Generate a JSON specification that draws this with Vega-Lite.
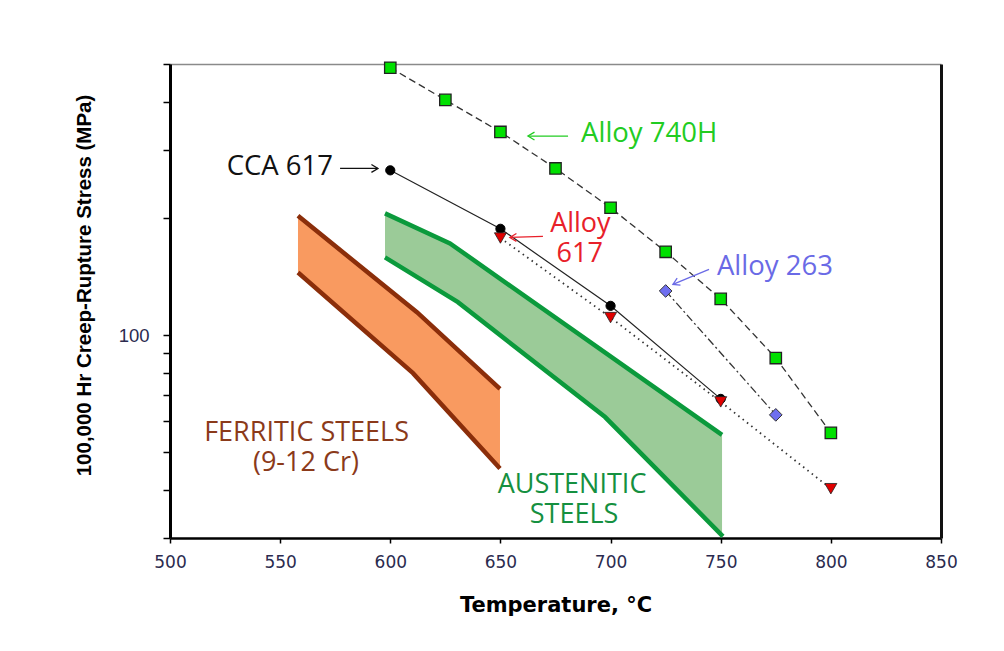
{
  "$schema": "https://vega.github.io/schema/vega-lite/v6.json",
  "width": 771,
  "height": 474,
  "autosize": "none",
  "padding": {"left": 170, "top": 64, "right": 63, "bottom": 113},
  "background": "white",
  "config": {"view": {"stroke": null}},
  "datasets": {
    "series": [
      {"series": "Alloy 740H", "T": 600, "S": 489},
      {"series": "Alloy 740H", "T": 625, "S": 404},
      {"series": "Alloy 740H", "T": 650, "S": 334},
      {"series": "Alloy 740H", "T": 675, "S": 269},
      {"series": "Alloy 740H", "T": 700, "S": 213},
      {"series": "Alloy 740H", "T": 725, "S": 164},
      {"series": "Alloy 740H", "T": 750, "S": 124},
      {"series": "Alloy 740H", "T": 775, "S": 87.3},
      {"series": "Alloy 740H", "T": 800, "S": 56},
      {"series": "CCA 617", "T": 600, "S": 266},
      {"series": "CCA 617", "T": 650, "S": 188},
      {"series": "CCA 617", "T": 700, "S": 119},
      {"series": "CCA 617", "T": 750, "S": 68.5},
      {"series": "Alloy 617", "T": 650, "S": 178},
      {"series": "Alloy 617", "T": 700, "S": 111},
      {"series": "Alloy 617", "T": 750, "S": 67.3},
      {"series": "Alloy 617", "T": 800, "S": 40.2},
      {"series": "Alloy 263", "T": 725, "S": 130},
      {"series": "Alloy 263", "T": 775, "S": 62.3}
    ],
    "bands": [
      {"band": "Ferritic", "T": 558.1, "upper": 203, "lower": 145},
      {"band": "Ferritic", "T": 611, "upper": 116, "lower": 79.5},
      {"band": "Ferritic", "T": 649.8, "upper": 72.7, "lower": 45.3},
      {"band": "Austenitic", "T": 597.6, "upper": 206, "lower": 158.7},
      {"band": "Austenitic", "T": 629, "upper": 169.4, "lower": 123.3},
      {"band": "Austenitic", "T": 697.5, "upper": 90.2, "lower": 61.5},
      {"band": "Austenitic", "T": 750.6, "upper": 55.3, "lower": 30.3}
    ],
    "bandlines": [
      {"band": "Ferritic", "edge": "upper", "T": 558.1, "S": 203},
      {"band": "Ferritic", "edge": "upper", "T": 612.1, "S": 114.6},
      {"band": "Ferritic", "edge": "upper", "T": 649.8, "S": 72.7},
      {"band": "Ferritic", "edge": "lower", "T": 558.1, "S": 145},
      {"band": "Ferritic", "edge": "lower", "T": 610.3, "S": 79.8},
      {"band": "Ferritic", "edge": "lower", "T": 649.8, "S": 45.3},
      {"band": "Austenitic", "edge": "upper", "T": 597.6, "S": 206},
      {"band": "Austenitic", "edge": "upper", "T": 627.1, "S": 172.4},
      {"band": "Austenitic", "edge": "upper", "T": 750.6, "S": 55.3},
      {"band": "Austenitic", "edge": "lower", "T": 597.6, "S": 158.7},
      {"band": "Austenitic", "edge": "lower", "T": 630.7, "S": 121.6},
      {"band": "Austenitic", "edge": "lower", "T": 697.5, "S": 61.5},
      {"band": "Austenitic", "edge": "lower", "T": 751, "S": 30.3}
    ],
    "labels": [
      {"label": "Alloy 740H", "series": "740H", "pos": "left", "T": 686.6, "S": 330},
      {"label": "Alloy 263", "series": "263", "pos": "left", "T": 748.3, "S": 149.5},
      {"label": "CCA 617", "series": "CCA", "pos": "right", "T": 574, "S": 272},
      {"label": "Alloy", "series": "617", "pos": "center", "T": 686.3, "S": 194},
      {"label": "617", "series": "617", "pos": "center", "T": 686, "S": 161.5},
      {"label": "FERRITIC STEELS", "series": "Ferritic", "pos": "center", "T": 562, "S": 56},
      {"label": "(9-12 Cr)", "series": "Ferritic", "pos": "center", "T": 561.7, "S": 46.9},
      {"label": "AUSTENITIC", "series": "Austenitic", "pos": "center", "T": 682.5, "S": 41.2},
      {"label": "STEELS", "series": "Austenitic", "pos": "center", "T": 683.4, "S": 34.4}
    ],
    "arrows": [
      {"series": "740H", "dir": "left", "T": 680.7, "S": 326, "T2": 662.5, "S2": 326},
      {"series": "CCA", "dir": "right", "T": 577.2, "S": 269, "T2": 594.4, "S2": 269},
      {"series": "617", "dir": "left", "T": 669.3, "S": 179.7, "T2": 654.3, "S2": 178.6},
      {"series": "263", "dir": "downleft", "T": 744.7, "S": 147.7, "T2": 728.3, "S2": 135.2}
    ]
  },
  "layer": [
    {
      "data": {"name": "bands"},
      "transform": [{"filter": "datum.band == 'Ferritic'"}],
      "mark": {"type": "area", "color": "#F99A60", "opacity": 1},
      "encoding": {
        "x": {"field": "T", "type": "quantitative", "scale": {"domain": [500, 850], "nice": false, "zero": false},
          "axis": {"orient": "bottom", "values": [500, 550, 600, 650, 700, 750, 800, 850], "format": "d",
            "title": "Temperature, °C", "titleFont": "DejaVu Sans", "titleFontSize": 21, "titleFontWeight": "bold", "titleColor": "#000",
            "titleY": 67, "titleBaseline": "middle",
            "labelFont": "DejaVu Sans", "labelFontSize": 17, "labelColor": "#2b2b4f", "labelPadding": 11, "labelFlush": false, "labelOverlap": false,
            "tickSize": 5, "tickColor": "#000", "tickWidth": 1.5, "domainColor": "#000", "domainWidth": 2.5, "grid": false}},
        "y": {"field": "upper", "type": "quantitative", "scale": {"type": "log", "domain": [30, 500], "nice": false},
          "axis": {"orient": "left", "values": [30, 40, 50, 60, 70, 80, 90, 100, 200, 300, 400, 500],
            "labelExpr": "datum.value == 100 ? '100' : ''",
            "title": "100,000 Hr Creep-Rupture Stress (MPa)", "titleFont": "Liberation Sans", "titleFontWeight": "bold", "titleFontSize": 20.5, "titleColor": "#000",
            "titleX": -86, "titleY": 221, "titleAngle": -90, "titleAlign": "center", "titleBaseline": "middle",
            "labelFont": "Liberation Sans", "labelFontSize": 18.5, "labelColor": "#2b2b4f", "labelPadding": 14, "labelOverlap": false,
            "tickSize": 7, "tickWidth": 1.5, "tickColor": "#000", "domainWidth": 3, "domainColor": "#000", "grid": false}},
        "y2": {"field": "lower"}
      }
    },
    {
      "data": {"name": "bands"},
      "transform": [{"filter": "datum.band == 'Austenitic'"}],
      "mark": {"type": "area", "color": "#9BCB98", "opacity": 1},
      "encoding": {
        "x": {"field": "T", "type": "quantitative", "scale": {"domain": [500, 850], "nice": false, "zero": false}, "axis": null},
        "y": {"field": "upper", "type": "quantitative", "scale": {"type": "log", "domain": [30, 500], "nice": false}, "axis": null},
        "y2": {"field": "lower"}
      }
    },
    {
      "data": {"name": "bandlines"},
      "transform": [{"filter": "datum.band == 'Ferritic'"}],
      "mark": {"type": "line", "color": "#8B2E0A", "strokeWidth": 4.5},
      "encoding": {
        "x": {"field": "T", "type": "quantitative", "scale": {"domain": [500, 850], "nice": false, "zero": false}, "axis": null},
        "y": {"field": "S", "type": "quantitative", "scale": {"type": "log", "domain": [30, 500], "nice": false}, "axis": null},
        "detail": {"field": "edge"}
      }
    },
    {
      "data": {"name": "bandlines"},
      "transform": [{"filter": "datum.band == 'Austenitic'"}],
      "mark": {"type": "line", "color": "#0B9A3C", "strokeWidth": 4.5},
      "encoding": {
        "x": {"field": "T", "type": "quantitative", "scale": {"domain": [500, 850], "nice": false, "zero": false}, "axis": null},
        "y": {"field": "S", "type": "quantitative", "scale": {"type": "log", "domain": [30, 500], "nice": false}, "axis": null},
        "detail": {"field": "edge"}
      }
    },
    {
      "data": {"name": "series"},
      "transform": [{"filter": "datum.series == 'Alloy 740H'"}],
      "mark": {"type": "line", "color": "#333", "strokeWidth": 1.3, "strokeDash": [7, 4]},
      "encoding": {
        "x": {"field": "T", "type": "quantitative", "scale": {"domain": [500, 850], "nice": false, "zero": false}, "axis": null},
        "y": {"field": "S", "type": "quantitative", "scale": {"type": "log", "domain": [30, 500], "nice": false}, "axis": null}
      }
    },
    {
      "data": {"name": "series"},
      "transform": [{"filter": "datum.series == 'CCA 617'"}],
      "mark": {"type": "line", "color": "#222", "strokeWidth": 1.2},
      "encoding": {
        "x": {"field": "T", "type": "quantitative", "scale": {"domain": [500, 850], "nice": false, "zero": false}, "axis": null},
        "y": {"field": "S", "type": "quantitative", "scale": {"type": "log", "domain": [30, 500], "nice": false}, "axis": null}
      }
    },
    {
      "data": {"name": "series"},
      "transform": [{"filter": "datum.series == 'Alloy 617'"}],
      "mark": {"type": "line", "color": "#333", "strokeWidth": 1.8, "strokeDash": [1.5, 4]},
      "encoding": {
        "x": {"field": "T", "type": "quantitative", "scale": {"domain": [500, 850], "nice": false, "zero": false}, "axis": null},
        "y": {"field": "S", "type": "quantitative", "scale": {"type": "log", "domain": [30, 500], "nice": false}, "axis": null}
      }
    },
    {
      "data": {"name": "series"},
      "transform": [{"filter": "datum.series == 'Alloy 263'"}],
      "mark": {"type": "line", "color": "#333", "strokeWidth": 1.3, "strokeDash": [8, 3, 2, 3]},
      "encoding": {
        "x": {"field": "T", "type": "quantitative", "scale": {"domain": [500, 850], "nice": false, "zero": false}, "axis": null},
        "y": {"field": "S", "type": "quantitative", "scale": {"type": "log", "domain": [30, 500], "nice": false}, "axis": null}
      }
    },
    {
      "data": {"name": "series"},
      "transform": [{"filter": "datum.series == 'Alloy 740H'"}],
      "mark": {"type": "point", "shape": "square", "filled": true, "fill": "#00E000", "stroke": "#222", "strokeWidth": 1.3, "size": 130, "opacity": 1},
      "encoding": {
        "x": {"field": "T", "type": "quantitative", "scale": {"domain": [500, 850], "nice": false, "zero": false}, "axis": null},
        "y": {"field": "S", "type": "quantitative", "scale": {"type": "log", "domain": [30, 500], "nice": false}, "axis": null}
      }
    },
    {
      "data": {"name": "series"},
      "transform": [{"filter": "datum.series == 'CCA 617'"}],
      "mark": {"type": "point", "shape": "circle", "filled": true, "fill": "#000", "stroke": "#000", "strokeWidth": 1, "size": 85, "opacity": 1},
      "encoding": {
        "x": {"field": "T", "type": "quantitative", "scale": {"domain": [500, 850], "nice": false, "zero": false}, "axis": null},
        "y": {"field": "S", "type": "quantitative", "scale": {"type": "log", "domain": [30, 500], "nice": false}, "axis": null}
      }
    },
    {
      "data": {"name": "series"},
      "transform": [{"filter": "datum.series == 'Alloy 617'"}],
      "mark": {"type": "point", "shape": "triangle-down", "filled": true, "fill": "#E00000", "stroke": "#222", "strokeWidth": 0.8, "size": 145, "opacity": 1},
      "encoding": {
        "x": {"field": "T", "type": "quantitative", "scale": {"domain": [500, 850], "nice": false, "zero": false}, "axis": null},
        "y": {"field": "S", "type": "quantitative", "scale": {"type": "log", "domain": [30, 500], "nice": false}, "axis": null}
      }
    },
    {
      "data": {"name": "series"},
      "transform": [{"filter": "datum.series == 'Alloy 263'"}],
      "mark": {"type": "point", "shape": "diamond", "filled": true, "fill": "#6F6FF0", "stroke": "#333", "strokeWidth": 1, "size": 160, "opacity": 1},
      "encoding": {
        "x": {"field": "T", "type": "quantitative", "scale": {"domain": [500, 850], "nice": false, "zero": false}, "axis": null},
        "y": {"field": "S", "type": "quantitative", "scale": {"type": "log", "domain": [30, 500], "nice": false}, "axis": null}
      }
    },
    {
      "data": {"name": "arrows"},
      "mark": {"type": "rule", "strokeWidth": 1.3},
      "encoding": {
        "x": {"field": "T", "type": "quantitative", "scale": {"domain": [500, 850], "nice": false, "zero": false}, "axis": null},
        "y": {"field": "S", "type": "quantitative", "scale": {"type": "log", "domain": [30, 500], "nice": false}, "axis": null},
        "x2": {"field": "T2"},
        "y2": {"field": "S2"},
        "color": {"field": "series", "type": "nominal", "legend": null,
          "scale": {"domain": ["740H", "CCA", "617", "263", "Ferritic", "Austenitic"], "range": ["#22CC22", "#111111", "#E8202A", "#6A6AE6", "#8B3A1A", "#159040"]}}
      }
    },
    {
      "data": {"name": "arrows"},
      "transform": [{"filter": "datum.dir == 'left'"}],
      "mark": {"type": "point", "shape": "M -1 -0.6 L 0 0 L -1 0.6", "filled": false, "strokeWidth": 1.3, "size": 170, "angle": 180, "opacity": 1},
      "encoding": {
        "x": {"field": "T2", "type": "quantitative", "scale": {"domain": [500, 850], "nice": false, "zero": false}, "axis": null},
        "y": {"field": "S2", "type": "quantitative", "scale": {"type": "log", "domain": [30, 500], "nice": false}, "axis": null},
        "color": {"field": "series", "type": "nominal", "legend": null}
      }
    },
    {
      "data": {"name": "arrows"},
      "transform": [{"filter": "datum.dir == 'right'"}],
      "mark": {"type": "point", "shape": "M -1 -0.6 L 0 0 L -1 0.6", "filled": false, "strokeWidth": 1.3, "size": 170, "angle": 0, "opacity": 1},
      "encoding": {
        "x": {"field": "T2", "type": "quantitative", "scale": {"domain": [500, 850], "nice": false, "zero": false}, "axis": null},
        "y": {"field": "S2", "type": "quantitative", "scale": {"type": "log", "domain": [30, 500], "nice": false}, "axis": null},
        "color": {"field": "series", "type": "nominal", "legend": null}
      }
    },
    {
      "data": {"name": "arrows"},
      "transform": [{"filter": "datum.dir == 'downleft'"}],
      "mark": {"type": "point", "shape": "M -1 -0.6 L 0 0 L -1 0.6", "filled": false, "strokeWidth": 1.3, "size": 170, "angle": 155, "opacity": 1},
      "encoding": {
        "x": {"field": "T2", "type": "quantitative", "scale": {"domain": [500, 850], "nice": false, "zero": false}, "axis": null},
        "y": {"field": "S2", "type": "quantitative", "scale": {"type": "log", "domain": [30, 500], "nice": false}, "axis": null},
        "color": {"field": "series", "type": "nominal", "legend": null}
      }
    },
    {
      "data": {"name": "labels"},
      "transform": [{"filter": "datum.pos == 'left'"}],
      "mark": {"type": "text", "align": "left", "baseline": "middle", "font": "Open Sans", "fontSize": 27.5},
      "encoding": {
        "x": {"field": "T", "type": "quantitative", "scale": {"domain": [500, 850], "nice": false, "zero": false}, "axis": null},
        "y": {"field": "S", "type": "quantitative", "scale": {"type": "log", "domain": [30, 500], "nice": false}, "axis": null},
        "text": {"field": "label"},
        "color": {"field": "series", "type": "nominal", "legend": null}
      }
    },
    {
      "data": {"name": "labels"},
      "transform": [{"filter": "datum.pos == 'right'"}],
      "mark": {"type": "text", "align": "right", "baseline": "middle", "font": "Open Sans", "fontSize": 27.5},
      "encoding": {
        "x": {"field": "T", "type": "quantitative", "scale": {"domain": [500, 850], "nice": false, "zero": false}, "axis": null},
        "y": {"field": "S", "type": "quantitative", "scale": {"type": "log", "domain": [30, 500], "nice": false}, "axis": null},
        "text": {"field": "label"},
        "color": {"field": "series", "type": "nominal", "legend": null}
      }
    },
    {
      "data": {"name": "labels"},
      "transform": [{"filter": "datum.pos == 'center'"}],
      "mark": {"type": "text", "align": "center", "baseline": "middle", "font": "Open Sans", "fontSize": 27},
      "encoding": {
        "x": {"field": "T", "type": "quantitative", "scale": {"domain": [500, 850], "nice": false, "zero": false},
          "axis": {"orient": "top", "labels": false, "ticks": false, "title": null, "grid": false, "domainColor": "#8a8a8a", "domainWidth": 1.5}},
        "y": {"field": "S", "type": "quantitative", "scale": {"type": "log", "domain": [30, 500], "nice": false},
          "axis": {"orient": "right", "labels": false, "ticks": false, "title": null, "grid": false, "domainColor": "#111", "domainWidth": 3}},
        "text": {"field": "label"},
        "color": {"field": "series", "type": "nominal", "legend": null}
      }
    }
  ],
  "resolve": {"axis": {"x": "independent", "y": "independent"}}
}
